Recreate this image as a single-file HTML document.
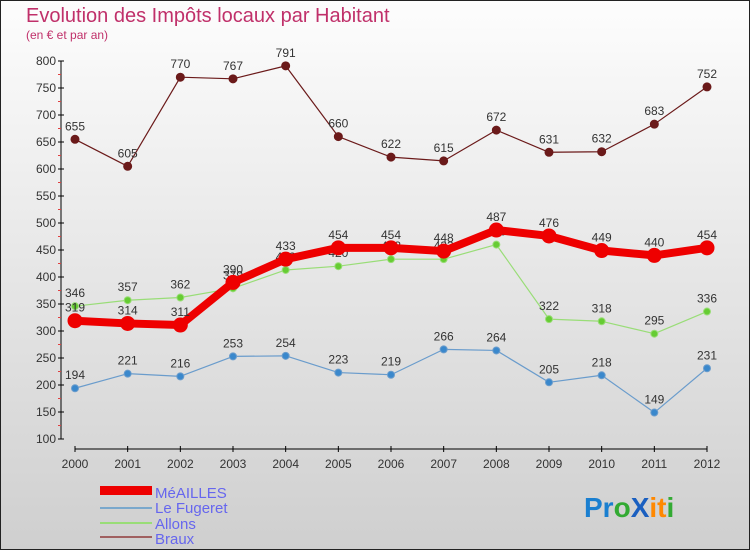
<!DOCTYPE html>
<html><head><meta charset="utf-8"><style>
body{margin:0}
#c{width:750px;height:550px;position:relative;overflow:hidden;font-family:"Liberation Sans",sans-serif}
</style></head><body>
<div id="c">
<svg id="s" width="750" height="550" xmlns="http://www.w3.org/2000/svg">
<defs><linearGradient id="bg" x1="0" y1="0" x2="0" y2="1"><stop offset="0" stop-color="#fdfdfd"/><stop offset="1" stop-color="#cfcfcf"/></linearGradient></defs>
<rect x="0.5" y="0.5" width="749" height="549" fill="url(#bg)" stroke="#222"/>
<text x="26" y="22" font-size="20" fill="#c0306a">Evolution des Impôts locaux par Habitant</text>
<text x="26" y="39" font-size="12" fill="#c0306a">(en € et par an)</text>
<g id="axes"></g><g id="series"></g>
<g font-size="15" fill="#6666ee">
<rect x="100" y="486" width="52" height="9" fill="#ee0000"/>
<text x="155" y="498">MéAILLES</text>
<rect x="100" y="507" width="52" height="2" fill="#7aa8cc"/>
<text x="155" y="513">Le Fugeret</text>
<rect x="100" y="522" width="52" height="2" fill="#99dd77"/>
<text x="155" y="529">Allons</text>
<rect x="100" y="536" width="52" height="2" fill="#a06060"/>
<text x="155" y="544">Braux</text>
</g>
<g font-size="28" font-weight="bold">
<text x="584" y="517"><tspan fill="#1a7fd0">Pr</tspan><tspan fill="#33aa33">o</tspan><tspan fill="#1a5fc0">X</tspan><tspan fill="#ff8800">it</tspan><tspan fill="#33aa33">i</tspan></text>
</g>
</svg></div>
<script>
const years=["2000","2001","2002","2003","2004","2005","2006","2007","2008","2009","2010","2011","2012"];
const meailles=[319,314,311,390,433,454,454,448,487,476,449,440,454];
const fugeret=[194,221,216,253,254,223,219,266,264,205,218,149,231];
const allons=[346,357,362,379,413,420,433,433,460,322,318,295,336];
const braux=[655,605,770,767,791,660,622,615,672,631,632,683,752];
const yTicks=[100,150,200,250,300,350,400,450,500,550,600,650,700,750,800];
const NS="http://www.w3.org/2000/svg";
const X=i=>75+i*(707-75)/12;
const Y=v=>439-(v-100)*(439-61)/700;
function el(t,a,p){const e=document.createElementNS(NS,t);for(const k in a)e.setAttribute(k,a[k]);p.appendChild(e);return e;}
const ax=document.getElementById('axes'),se=document.getElementById('series');
let l=el('line',{x1:61,y1:61,x2:61,y2:439,stroke:'#000'},ax);

l=el('line',{x1:75,y1:449,x2:707,y2:449,stroke:'#000'},ax);

yTicks.forEach(v=>{
  el('line',{x1:58,y1:Y(v),x2:64,y2:Y(v),stroke:'#000'},ax);
  if(v<800){el('line',{x1:58,y1:Y(v+25),x2:61,y2:Y(v+25),stroke:'#e04040'},ax);}
  const t=el('text',{x:56,y:Y(v)+4,'font-size':12,fill:'#333','text-anchor':'end'},ax);t.textContent=v;
  
});
years.forEach((y,i)=>{
  el('line',{x1:X(i),y1:446,x2:X(i),y2:452,stroke:'#000'},ax);
  const t=el('text',{x:X(i),y:468,'font-size':12,fill:'#333','text-anchor':'middle'},ax);t.textContent=y;
  
});
function series(d,name,col,w,r,dot){
  const g=el('g',{},se);
  el('polyline',{points:d.map((v,i)=>X(i)+','+Y(v)).join(' '),fill:'none',stroke:col,'stroke-width':w,'stroke-linejoin':'round'},g);
  d.forEach((v,i)=>{
    const c=el('circle',{cx:X(i),cy:Y(v),r:r,fill:dot,stroke:col},g);
    
    const t=el('text',{x:X(i),y:Y(v)-9,'font-size':12,fill:'#333','text-anchor':'middle'},g);t.textContent=v;
    
  });
}
series(braux,'braux','#6b1a1a',1.2,4,'#6b1a1a');
series(fugeret,'le-fugeret','#6a9ccc',1.2,3.5,'#3a88cc');
series(allons,'allons','#99dd77',1.2,3.5,'#66cc33');
series(meailles,'meailles','#ee0000',8,7,'#ee0000');
</script>
</body></html>
